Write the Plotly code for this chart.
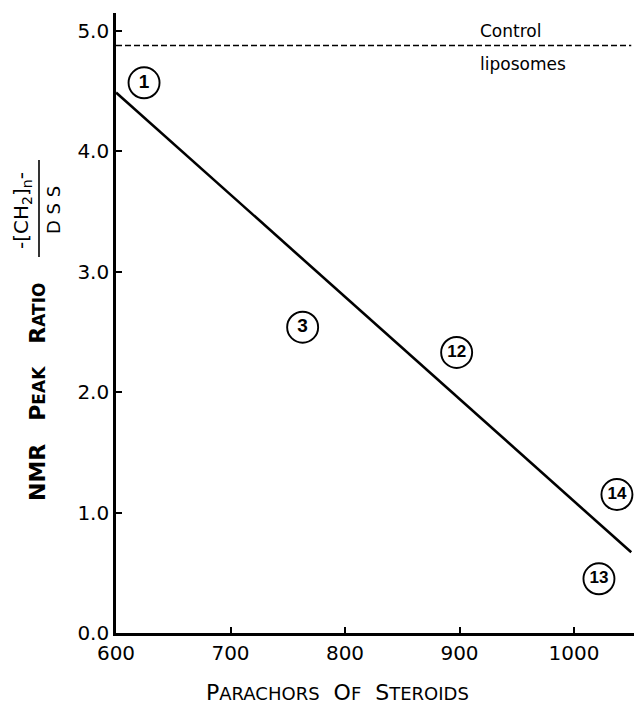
import plotly.graph_objects as go

# ---- data ----
point_labels = ["1", "3", "12", "14", "13"]
point_x = [624.5, 763, 897.5, 1037.5, 1021.8]
point_y = [4.57, 2.54, 2.33, 1.15, 0.45]

fit_x = [600, 1050]
fit_y = [4.49, 0.67]

control_x = [600, 1050]
control_y = [4.88, 4.88]

x_ticks = [600, 700, 800, 900, 1000]
x_ticktext = ["600", "700", "800", "900", "1000"]
y_ticks = [0, 1, 2, 3, 4, 5]
y_ticktext = ["0.0", "1.0", "2.0", "3.0", "4.0", "5.0"]

# ---- layout geometry (pixels) ----
W, H = 637, 708
L, R, T, B = 116, 3, 13, 75
PW = W - L - R
PH = H - T - B


def px(xp):
    return (xp - L) / PW


def py(yp):
    return (H - B - yp) / PH


FONT = "DejaVu Sans"

fig = go.Figure()

fig.add_trace(go.Scatter(
    x=control_x, y=control_y, mode="lines",
    line=dict(color="black", width=1.4, dash="6px,3px"),
    hoverinfo="skip", showlegend=False))

fig.add_trace(go.Scatter(
    x=fit_x, y=fit_y, mode="lines",
    line=dict(color="black", width=2.6),
    hoverinfo="skip", showlegend=False))

sizes = [19 if len(s) == 1 else 17 for s in point_labels]
fig.add_trace(go.Scatter(
    x=point_x, y=point_y, mode="markers+text",
    text=point_labels, textposition="middle center",
    textfont=dict(family="Liberation Sans", size=sizes, color="black", weight="bold"),
    marker=dict(symbol="circle-open", size=31, color="black",
                line=dict(color="black", width=1.9)),
    showlegend=False))

axis_common = dict(
    showline=True, linecolor="black", linewidth=2.6,
    ticks="inside", ticklen=6, tickwidth=1.5, tickcolor="black",
    showgrid=False, zeroline=False,
    tickfont=dict(family=FONT, size=20, color="black"),
)

fig.update_xaxes(range=[600, 600 + PW / 1.145], tickvals=x_ticks,
                 ticktext=x_ticktext, **axis_common)
fig.update_yaxes(range=[0, PH / 120.4], tickvals=y_ticks,
                 ticktext=y_ticktext, **axis_common)

small = "<span style='font-size:18px'>{}</span>"
annotations = [
    # x-axis title (small caps)
    dict(x=px(337), y=py(692), xref="paper", yref="paper",
         text="P" + small.format("ARACHORS") + "&nbsp;&nbsp;O" + small.format("F")
              + "&nbsp;&nbsp;S" + small.format("TEROIDS"),
         showarrow=False, xanchor="center", yanchor="middle",
         font=dict(family=FONT, size=22, color="black")),
    # y-axis title
    dict(x=px(37), y=py(392), xref="paper", yref="paper",
         text="<b>NMR&nbsp;&nbsp;&nbsp;P" + "<span style='font-size:17px'>EAK</span>"
              + "&nbsp;&nbsp;&nbsp;R" + "<span style='font-size:17px'>ATIO</span></b>",
         textangle=-90, showarrow=False, xanchor="center", yanchor="middle",
         font=dict(family=FONT, size=22, color="black")),
    # fraction numerator
    dict(x=px(22), y=py(211), xref="paper", yref="paper",
         text="-[CH<sub>2</sub>]<sub>n</sub>-",
         textangle=-90, showarrow=False, xanchor="center", yanchor="middle",
         font=dict(family=FONT, size=20, color="black")),
    # fraction denominator
    dict(x=px(53), y=py(210), xref="paper", yref="paper",
         text="D S S",
         textangle=-90, showarrow=False, xanchor="center", yanchor="middle",
         font=dict(family=FONT, size=18, color="black")),
    # control label
    dict(x=916, y=5.0, xref="x", yref="y", text="Control",
         showarrow=False, xanchor="left", yanchor="middle",
         font=dict(family=FONT, size=17, color="black")),
    dict(x=916, y=4.73, xref="x", yref="y", text="liposomes",
         showarrow=False, xanchor="left", yanchor="middle",
         font=dict(family=FONT, size=17, color="black")),
]

shapes = [
    dict(type="line", xref="paper", yref="paper",
         x0=px(39), x1=px(39), y0=py(160), y1=py(257),
         line=dict(color="black", width=1.6)),
]

fig.update_layout(
    width=W, height=H,
    margin=dict(l=L, r=R, t=T, b=B, pad=0),
    paper_bgcolor="white", plot_bgcolor="white",
    showlegend=False,
    annotations=annotations, shapes=shapes,
)

fig.write_html("out.html")
